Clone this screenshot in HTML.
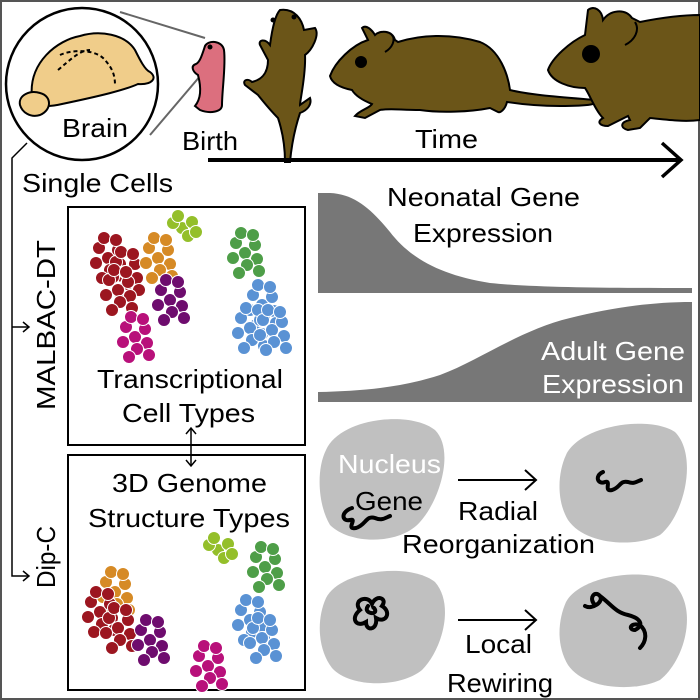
<!DOCTYPE html>
<html><head><meta charset="utf-8"><style>
html,body{margin:0;padding:0;background:#fff}
svg{display:block}
text{font-family:"Liberation Sans",Arial,sans-serif}
</style></head><body>
<svg width="700" height="700" viewBox="0 0 700 700" xmlns="http://www.w3.org/2000/svg">
<defs>
<g id="pat">
<circle cx="0" cy="0" r="6.5"/><circle cx="10" cy="-8" r="6.5"/><circle cx="-9" cy="-10" r="6.5"/>
<circle cx="12" cy="6" r="6.5"/><circle cx="-12" cy="5" r="6.5"/><circle cx="2" cy="12" r="6.5"/>
<circle cx="-4" cy="-20" r="6.5"/><circle cx="8" cy="-18" r="6.5"/><circle cx="-6" cy="20" r="6.5"/>
<circle cx="14" cy="18" r="6.5"/>
</g>
<g id="sm">
<circle cx="0" cy="0" r="6.5"/><circle cx="10" cy="-6" r="6.5"/><circle cx="-9" cy="-5" r="6.5"/>
<circle cx="6" cy="8" r="6.5"/><circle cx="-4" cy="-12" r="6.5"/><circle cx="14" cy="4" r="6.5"/>
</g>
</defs>
<rect x="1" y="1" width="698" height="698" fill="none" stroke="#555" stroke-width="2"/>

<line x1="120" y1="12" x2="205" y2="38" stroke="#666" stroke-width="2"/>
<line x1="150" y1="135" x2="218" y2="55" stroke="#666" stroke-width="2"/>
<circle cx="82" cy="84" r="76" fill="#fff" stroke="#000" stroke-width="2.5"/>
<path d="M32,98 C28,62 58,40 80,36 C100,30 125,34 135,50 C140,60 145,70 150,72 C158,78 152,85 138,84 C125,90 100,96 62,104 C45,108 34,106 32,98Z" fill="#f0cd8a" stroke="#000" stroke-width="2"/>
<path d="M20,105 C18,95 30,90 40,93 C52,96 52,110 40,115 C30,118 22,112 20,105Z" fill="#f0cd8a" stroke="#000" stroke-width="2"/>
<path d="M60,55 C70,50 95,48 105,60 C110,66 115,72 115,85" fill="none" stroke="#000" stroke-width="2" stroke-dasharray="4,3"/>
<path d="M58,70 C70,60 80,50 90,50" fill="none" stroke="#000" stroke-width="2" stroke-dasharray="4,3"/>
<text x="62" y="137" font-size="26" textLength="66" lengthAdjust="spacingAndGlyphs">Brain</text>

<path d="M205,46 C208,40 222,40 224,50 C226,65 222,90 222,105 C222,112 210,114 200,110 L195,106 C200,100 202,90 198,75 C193,72 190,66 196,64 C200,62 202,55 205,46Z" fill="#dc6f7e" stroke="#000" stroke-width="2"/>
<circle cx="210" cy="47" r="2.5" fill="#000"/>
<text x="182" y="150" font-size="26" textLength="56" lengthAdjust="spacingAndGlyphs">Birth</text>

<path d="M280,10 C295,8 302,20 304,30 L315,28 C320,35 312,50 305,55 C306,75 300,100 300,105 L310,98 C312,104 308,110 300,113 C296,125 292,140 290,162 L285,162 C285,145 282,130 278,118 C270,110 262,100 258,95 L245,85 C242,80 248,78 252,82 C260,80 268,75 268,60 L260,45 C258,40 265,38 270,45 C272,30 275,15 280,10Z" fill="#6b5518" stroke="#000" stroke-width="2"/>
<circle cx="273" cy="20" r="2.5" fill="#000"/><circle cx="294" cy="17" r="2.5" fill="#000"/>

<path d="M330,76 C335,62 352,45 368,40 L362,28 C366,24 372,30 375,35 C380,30 392,30 395,40 L398,42 C420,35 450,33 480,42 C500,50 508,75 510,90 C530,95 560,97 596,100 C600,104 590,106 560,106 C540,106 520,104 507,102 C505,110 500,113 498,112 L490,108 C470,112 440,113 420,110 C400,110 390,108 380,110 L365,118 L355,116 C360,110 370,108 372,104 C362,100 355,95 352,90 C342,88 332,84 330,76Z" fill="#6b5518" stroke="#000" stroke-width="2"/>
<path d="M385,52 C392,48 396,40 392,35" fill="none" stroke="#000" stroke-width="2"/>
<circle cx="361" cy="62" r="6" fill="#000"/>

<path d="M548,70 C552,58 570,42 585,35 L588,10 C594,5 602,10 603,20 C610,10 625,8 632,18 L640,22 C660,18 680,15 700,15 L700,120 C685,122 668,120 650,118 L640,128 L628,130 C620,128 620,122 630,120 L628,116 L608,126 C600,126 596,122 603,118 C595,110 590,95 585,88 C570,88 552,82 548,70Z" fill="#6b5518" stroke="#000" stroke-width="2"/>
<path d="M625,45 C635,40 640,30 635,22" fill="none" stroke="#000" stroke-width="2"/>
<circle cx="591" cy="54" r="9" fill="#000"/>

<text x="415" y="148" font-size="26" textLength="63" lengthAdjust="spacingAndGlyphs">Time</text>
<line x1="208" y1="160" x2="680" y2="160" stroke="#000" stroke-width="4"/>
<polyline points="662,143 681,160 662,177" fill="none" stroke="#000" stroke-width="3.5"/>

<polyline points="27,143 12,158 12,576 28,576" fill="none" stroke="#000" stroke-width="1.5"/>
<line x1="12" y1="327" x2="28" y2="327" stroke="#000" stroke-width="1.5"/>
<polyline points="23,322 29,327 23,332" fill="none" stroke="#000" stroke-width="1.5"/>
<polyline points="23,571 29,576 23,581" fill="none" stroke="#000" stroke-width="1.5"/>
<text x="22" y="192" font-size="26" textLength="151" lengthAdjust="spacingAndGlyphs">Single Cells</text>
<text transform="translate(55,410) rotate(-90)" font-size="26" textLength="170" lengthAdjust="spacingAndGlyphs">MALBAC-DT</text>
<text transform="translate(55,588) rotate(-90)" font-size="26" textLength="62" lengthAdjust="spacingAndGlyphs">Dip-C</text>

<rect x="68" y="207" width="237" height="238" fill="#fff" stroke="#000" stroke-width="2"/>
<rect x="68" y="455" width="237" height="235" fill="#fff" stroke="#000" stroke-width="2"/>

<g stroke="#fff" stroke-width="1">
<use href="#pat" transform="translate(108,258)" fill="#9c1620"/>
<use href="#pat" transform="translate(125,272)" fill="#9c1620"/>
<use href="#pat" transform="translate(118,290)" fill="#9c1620"/>
<use href="#pat" transform="translate(158,258)" fill="#d68a25"/>
<use href="#sm" transform="translate(182,228)" fill="#94bf2a"/>
<use href="#pat" transform="translate(245,253)" fill="#4e9e48"/>
<use href="#pat" transform="translate(170,300)" fill="#6e0c6e"/>
<use href="#pat" transform="translate(135,337)" fill="#b8107a"/>
<use href="#pat" transform="translate(262,305)" fill="#5a92d4"/>
<use href="#pat" transform="translate(250,328)" fill="#5a92d4"/>
<use href="#pat" transform="translate(272,330)" fill="#5a92d4"/>

<use href="#sm" transform="translate(218,550)" fill="#94bf2a"/>
<use href="#pat" transform="translate(265,567)" fill="#4e9e48"/>
<use href="#pat" transform="translate(115,592)" fill="#d68a25"/>
<use href="#pat" transform="translate(100,612)" fill="#9c1620"/>
<use href="#pat" transform="translate(118,628)" fill="#9c1620"/>
<use href="#pat" transform="translate(150,640)" fill="#6e0c6e"/>
<use href="#pat" transform="translate(250,620)" fill="#5a92d4"/>
<use href="#pat" transform="translate(262,638)" fill="#5a92d4"/>
<use href="#pat" transform="translate(208,666)" fill="#b8107a"/>
</g>

<text x="97" y="388" font-size="26" textLength="186" lengthAdjust="spacingAndGlyphs">Transcriptional</text>
<text x="122" y="422" font-size="26" textLength="133" lengthAdjust="spacingAndGlyphs">Cell Types</text>
<text x="112" y="492" font-size="26" textLength="155" lengthAdjust="spacingAndGlyphs">3D Genome</text>
<text x="88" y="527" font-size="26" textLength="202" lengthAdjust="spacingAndGlyphs">Structure Types</text>
<line x1="191" y1="428" x2="191" y2="466" stroke="#000" stroke-width="1.5"/>
<polyline points="186,434 191,428 196,434" fill="none" stroke="#000" stroke-width="1.5"/>
<polyline points="186,460 191,466 196,460" fill="none" stroke="#000" stroke-width="1.5"/>

<path d="M318,193 L330,193 C355,194 372,210 390,232 C410,258 440,275 490,283 C540,288 620,288 692,288 L692,293 L318,293Z" fill="#777"/>
<text x="387" y="206" font-size="26" textLength="193" lengthAdjust="spacingAndGlyphs">Neonatal Gene</text>
<text x="413" y="242" font-size="26" textLength="140" lengthAdjust="spacingAndGlyphs">Expression</text>
<path d="M318,392 C360,391 400,388 440,375 C480,360 520,330 570,318 C610,308 650,302 692,302 L692,402 L318,402Z" fill="#777"/>
<text x="541" y="360" font-size="26" fill="#fff" textLength="144" lengthAdjust="spacingAndGlyphs">Adult Gene</text>
<text x="542" y="393" font-size="26" fill="#fff" textLength="142" lengthAdjust="spacingAndGlyphs">Expression</text>

<g fill="#c0c0c0">
<path d="M326,450 C340,418 410,410 435,430 C455,450 440,500 420,522 C400,545 350,545 330,525 C318,505 316,470 326,450Z"/>
<path d="M566,455 C580,425 650,415 675,432 C698,455 685,515 660,535 C635,548 585,545 568,520 C556,500 558,472 566,455Z"/>
<path d="M326,598 C340,570 410,562 435,582 C455,605 442,650 422,670 C400,688 350,688 332,668 C318,650 316,620 326,598Z"/>
<path d="M566,602 C580,575 650,565 675,585 C698,610 685,660 660,680 C635,692 585,690 568,665 C556,645 558,620 566,602Z"/>
</g>
<text x="338" y="473" font-size="26" fill="#fff" textLength="103" lengthAdjust="spacingAndGlyphs">Nucleus</text>
<text x="355" y="510" font-size="26" textLength="68" lengthAdjust="spacingAndGlyphs">Gene</text>
<path d="M352,508 C340,512 342,522 350,520 C358,518 345,530 356,528 C366,525 366,515 375,518 C382,521 385,518 390,516" fill="none" stroke="#000" stroke-width="4" stroke-linecap="round"/>
<path d="M603,472 C594,476 598,485 605,482 C612,480 603,492 612,490 C620,488 620,480 628,482 C634,484 636,482 641,480" fill="none" stroke="#000" stroke-width="4" stroke-linecap="round"/>
<path d="M360,610 C352,600 368,594 372,604 C376,594 388,598 382,606 C392,612 386,624 376,618 C378,630 366,632 366,622 C356,628 350,618 360,610Z M368,606 C362,614 380,616 374,608" fill="none" stroke="#000" stroke-width="4" stroke-linecap="round"/>
<path d="M595,605 C588,598 595,590 600,596 C604,602 592,610 585,606 M600,596 C612,605 615,612 628,615 C640,618 645,625 635,630 C628,630 630,622 640,625 C648,632 646,642 640,648" fill="none" stroke="#000" stroke-width="4" stroke-linecap="round"/>
<line x1="458" y1="480" x2="535" y2="480" stroke="#000" stroke-width="2"/>
<polyline points="525,470 536,480 525,490" fill="none" stroke="#000" stroke-width="2"/>
<line x1="458" y1="620" x2="535" y2="620" stroke="#000" stroke-width="2"/>
<polyline points="525,610 536,620 525,630" fill="none" stroke="#000" stroke-width="2"/>
<text x="458" y="520" font-size="26" textLength="80" lengthAdjust="spacingAndGlyphs">Radial</text>
<text x="402" y="553" font-size="26" textLength="193" lengthAdjust="spacingAndGlyphs">Reorganization</text>
<text x="465" y="653" font-size="26" textLength="67" lengthAdjust="spacingAndGlyphs">Local</text>
<text x="447" y="692" font-size="26" textLength="106" lengthAdjust="spacingAndGlyphs">Rewiring</text>
</svg>
</body></html>
